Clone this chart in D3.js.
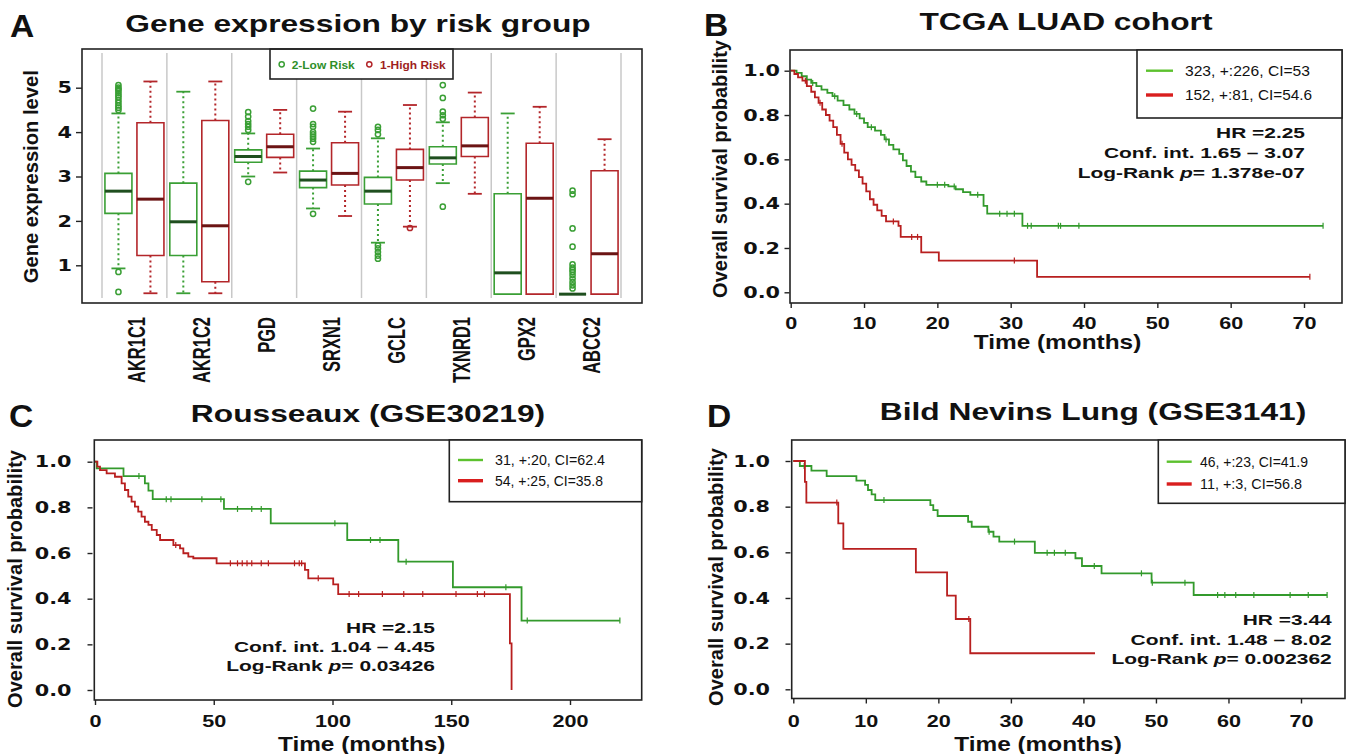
<!DOCTYPE html>
<html>
<head>
<meta charset="utf-8">
<script src="https://cdn.jsdelivr.net/npm/d3@7"></script>
<style>
  html, body { margin: 0; padding: 0; background: #fff; }
  svg { display: block; }
</style>
</head>
<body>
<svg id="fig" width="1349" height="754"></svg>
<script>
// ---------- Panel A data ----------
const genes = ["AKR1C1", "AKR1C2", "PGD", "SRXN1", "GCLC", "TXNRD1", "GPX2", "ABCC2"];
// [lower whisker, Q1, median, Q3, upper whisker]
const lowRiskStats = [
  [0.93, 2.17, 2.67, 3.07, 4.42],
  [0.37, 1.22, 1.98, 2.85, 4.91],
  [3.00, 3.32, 3.45, 3.60, 3.97],
  [2.28, 2.75, 2.92, 3.12, 3.63],
  [1.51, 2.38, 2.67, 2.98, 3.86],
  [2.85, 3.28, 3.42, 3.67, 4.22],
  [0.35, 0.35, 0.83, 2.61, 4.42],
  [0.35, 0.35, 0.35, 0.35, 0.35]
];
const highRiskStats = [
  [0.37, 1.22, 2.49, 4.21, 5.14],
  [0.37, 0.63, 1.89, 4.26, 5.14],
  [3.09, 3.43, 3.67, 3.95, 4.50],
  [2.11, 2.81, 3.07, 3.76, 4.46],
  [1.87, 2.92, 3.20, 3.61, 4.61],
  [2.61, 3.45, 3.69, 4.33, 4.89],
  [0.35, 0.35, 2.51, 3.75, 4.57],
  [0.35, 0.35, 1.26, 3.13, 3.84]
];
const lowRiskOutliers = [
  [5.06, 5.0, 4.97, 4.93, 4.88, 4.83, 4.78, 4.72, 4.66, 4.6, 4.55, 4.5, 0.85, 0.4],
  [],
  [4.45, 4.35, 4.25, 4.18, 4.12, 4.05, 2.88],
  [4.53, 4.18, 4.12, 4.0, 3.95, 3.9, 3.85, 3.78, 2.16],
  [4.12, 4.05, 3.95, 1.45, 1.38, 1.3, 1.22, 1.15],
  [5.06, 4.77, 4.46, 4.38, 4.3, 2.32],
  [],
  [2.68, 2.6, 1.83, 1.42, 1.02, 0.95, 0.9, 0.85, 0.78, 0.7, 0.62, 0.55, 0.48]
];
const highRiskOutliers = [[], [], [], [], [1.84], [], [], []];
const exprTicks = [1, 2, 3, 4, 5];

// ---------- Panel B data (TCGA LUAD) ----------
const tcgaLow = [[0,1],[0.8,0.99],[1.5,0.975],[2.2,0.96],[2.8,0.945],[3.5,0.93],[4.2,0.915],[5,0.9],[5.7,0.885],[6.4,0.865],[7.2,0.845],[8,0.825],[8.7,0.805],[9.4,0.785],[10,0.765],[10.5,0.745],[11.5,0.73],[12.3,0.71],[12.8,0.69],[13.4,0.665],[14,0.645],[14.8,0.625],[15.3,0.595],[15.8,0.57],[16.4,0.545],[17,0.52],[17.8,0.5],[18.5,0.485],[21.5,0.478],[22.5,0.465],[23.5,0.452],[24.5,0.44],[26.3,0.39],[26.8,0.355],[31.6,0.3]];
const tcgaLowEnd = 72.6;
const tcgaLowCensor = [3, 6, 9, 11, 13, 20, 21, 22.3, 25.5, 28.5, 29.5, 30.5, 32.3, 32.8, 36.5, 36.8, 39.3, 72.6];
const tcgaHigh = [[0,1],[0.5,0.985],[1,0.97],[1.6,0.955],[2.2,0.93],[2.8,0.905],[3.3,0.88],[3.8,0.855],[4.3,0.825],[4.8,0.8],[5.3,0.775],[5.8,0.745],[6.3,0.71],[6.8,0.67],[7.3,0.63],[7.8,0.6],[8.3,0.575],[8.8,0.55],[9.3,0.52],[9.8,0.49],[10.3,0.455],[10.8,0.42],[11.3,0.395],[11.8,0.37],[12.4,0.345],[13,0.32],[14.7,0.3],[15,0.25],[17.8,0.18],[20.2,0.143],[33.6,0.07]];
const tcgaHighEnd = 70.8;
const tcgaHighCensor = [2, 4, 7, 14, 16.5, 17.3, 30.5, 70.8];

// ---------- Panel C data (GSE30219) ----------
const rousLow = [[0,1],[0.7,0.971],[12,0.937],[21,0.905],[22.5,0.873],[24.3,0.836],[54.3,0.793],[74,0.73],[106.2,0.657],[127.7,0.562],[150.7,0.45],[179.6,0.304]];
const rousLowEnd = 221;
const rousLowCensor = [18.5, 30, 32, 45, 53, 60, 66, 70, 101, 116, 120, 131, 173, 182, 221];
const rousHigh = [[0,1],[1,0.978],[2.1,0.963],[4.9,0.949],[8.4,0.934],[11.2,0.905],[12.6,0.876],[14,0.847],[15.4,0.825],[16.8,0.803],[18.2,0.781],[19.6,0.759],[21,0.737],[22.5,0.723],[23.9,0.701],[26,0.679],[27.4,0.657],[33,0.635],[35.8,0.62],[37.2,0.599],[39.3,0.584],[41.4,0.577],[51.2,0.555],[88.4,0.526],[89.8,0.489],[100.3,0.463],[102.4,0.42],[174.7,0.204],[175.4,0]];
const rousHighEnd = 175.4;
const rousHighCensor = [34, 57, 60, 62, 64, 66, 70, 73, 84, 86, 87, 94, 107, 111, 121, 130, 138, 152, 161, 164];

// ---------- Panel D data (GSE3141) ----------
const bildLow = [[0,1],[0.9,0.978],[2.5,0.958],[4.6,0.934],[8.7,0.914],[9.9,0.895],[10.3,0.873],[10.8,0.854],[11.3,0.829],[18.9,0.807],[19.3,0.785],[19.9,0.759],[24.1,0.734],[24.6,0.712],[26.9,0.69],[27.6,0.669],[28.4,0.647],[33.3,0.598],[38.9,0.574],[39.8,0.54],[42.5,0.508],[49.4,0.467],[55.2,0.413]];
const bildLowEnd = 73.6;
const bildLowCensor = [1.5, 12.5, 27, 30.5, 35, 36, 37.5, 41.5, 48, 49.5, 54, 58.5, 59.5, 61, 63.5, 68.5, 71, 73.6];
const bildHigh = [[0,1],[1.6,0.909],[1.8,0.818],[6.2,0.727],[6.9,0.615],[16.9,0.512],[21.2,0.41],[22.4,0.308],[24.4,0.158]];
const bildHighEnd = 41.6;
const bildHighCensor = [6, 24.2];

const survTicks = [0, 0.2, 0.4, 0.6, 0.8, 1.0];

// ---------- styling ----------
const SX = 1.35;              // the figure is stretched horizontally
const SANS = "'Liberation Sans', Arial, sans-serif";
const WIDE = "'DejaVu Sans', Verdana, sans-serif";
const NARROW = "'Liberation Sans Narrow', 'Arial Narrow', 'Liberation Sans', sans-serif";
const GREEN = "#3a9f35", GREEN_MED = "#1f4f1f";
const RED = "#b3262a", RED_MED = "#6b1414";
const KM_GREEN = "#339a2c", KM_RED = "#b81f1f";
const LEG_GREEN = "#5cc12e", LEG_RED = "#d91e1e";

const svg = d3.select("#fig");
svg.append("rect").attr("width", 1349).attr("height", 754).attr("fill", "#fff");

function label(g, x, y, str, o = {}) {
  const t = g.append("text")
    .attr("transform", `translate(${x},${y}) scale(${o.sx ?? SX},1)`)
    .attr("text-anchor", o.anchor || "start")
    .style("font-family", o.family || SANS)
    .style("font-weight", o.weight || "bold")
    .style("font-size", (o.size || 16) + "px")
    .style("fill", o.color || "#111");
  if (o.len) t.attr("textLength", o.len).attr("lengthAdjust", "spacingAndGlyphs");
  t.text(str);
  return t;
}

function vlabel(g, x, y, str, o = {}) {
  const t = g.append("text")
    .attr("transform", `translate(${x},${y}) rotate(-90) scale(1,${o.sy ?? 1.1})`)
    .attr("text-anchor", "middle")
    .style("font-family", o.family || SANS)
    .style("font-weight", o.weight || "bold")
    .style("font-size", (o.size || 19) + "px")
    .style("fill", "#111");
  if (o.len) t.attr("textLength", o.len).attr("lengthAdjust", "spacingAndGlyphs");
  t.text(str);
  return t;
}

// ================= Panel A =================
(function drawBoxPanel() {
  const g = svg.append("g");
  const frame = { x0: 82, y0: 49, x1: 642, y1: 303 };
  const y = d3.scaleLinear().domain([1, 5]).range([265.3, 87.7]);
  const band = d3.scaleBand().domain(genes).range([102, 621]);
  const half = 13.5, off = 16;

  label(g, 10, 36.7, "A", { size: 32, sx: 1.05 });
  label(g, 358, 31.7, "Gene expression by risk group", { size: 23.5, anchor: "middle" });

  // group separators
  const seps = genes.map(d => band(d)).concat([band.range()[1]]);
  g.selectAll(".sep").data(seps).join("line")
    .attr("x1", d => d).attr("x2", d => d)
    .attr("y1", 53).attr("y2", 298)
    .attr("stroke", "#c8c8c8").attr("stroke-width", 1.5);

  function drawBox(stats, outs, cx, col, med) {
    const [wl, q1, md, q3, wh] = stats;
    // whiskers
    [[q3, wh], [q1, wl]].forEach(([a, b]) => {
      if (a === b) return;
      g.append("line").attr("x1", cx).attr("x2", cx).attr("y1", y(a)).attr("y2", y(b))
        .attr("stroke", col).attr("stroke-width", 2).attr("stroke-dasharray", "2,3");
      g.append("line").attr("x1", cx - 7).attr("x2", cx + 7).attr("y1", y(b)).attr("y2", y(b))
        .attr("stroke", col).attr("stroke-width", 1.8);
    });
    // box
    g.append("path")
      .attr("d", `M${cx - half},${y(q1)}H${cx + half}V${y(q3)}H${cx - half}Z`)
      .attr("fill", "#fff").attr("stroke", col).attr("stroke-width", 1.6);
    g.append("line").attr("x1", cx - half).attr("x2", cx + half).attr("y1", y(md)).attr("y2", y(md))
      .attr("stroke", med).attr("stroke-width", 3);
    g.selectAll(null).data(outs).join("circle")
      .attr("cx", cx).attr("cy", d => y(d)).attr("r", 2.6)
      .attr("fill", "none").attr("stroke", col).attr("stroke-width", 1.5);
  }

  genes.forEach((gene, i) => {
    const c = band(gene) + band.bandwidth() / 2;
    drawBox(lowRiskStats[i], lowRiskOutliers[i], c - off, GREEN, GREEN_MED);
    drawBox(highRiskStats[i], highRiskOutliers[i], c + off, RED, RED_MED);
  });

  // legend
  g.append("rect").attr("x", 270).attr("y", 49).attr("width", 183).attr("height", 30)
    .attr("fill", "#fff").attr("stroke", "#222").attr("stroke-width", 1.6);
  g.append("circle").attr("cx", 281.7).attr("cy", 64.3).attr("r", 2.6)
    .attr("fill", "none").attr("stroke", GREEN).attr("stroke-width", 1.5);
  label(g, 291.7, 68.5, "2-Low Risk", { size: 11.5, sx: 1.04, color: "#2f8f2a" });
  g.append("circle").attr("cx", 369.3).attr("cy", 64.3).attr("r", 2.6)
    .attr("fill", "none").attr("stroke", RED).attr("stroke-width", 1.5);
  label(g, 380, 68.5, "1-High Risk", { size: 11.5, sx: 1.04, color: "#9e1f22" });

  // frame
  g.append("rect").attr("x", frame.x0).attr("y", frame.y0)
    .attr("width", frame.x1 - frame.x0).attr("height", frame.y1 - frame.y0)
    .attr("fill", "none").attr("stroke", "#222").attr("stroke-width", 1.6);

  // y axis
  const ya = g.append("g").attr("transform", `translate(${frame.x0},0)`)
    .call(d3.axisLeft(y).tickValues(exprTicks).tickSize(6).tickPadding(4).tickFormat(d3.format("d")));
  ya.select(".domain").remove();
  ya.selectAll(".tick line").attr("stroke", "#222").attr("stroke-width", 1.4);
  ya.selectAll(".tick text")
    .attr("x", -10 / 1.3).attr("transform", "scale(1.3,1)")
    .style("font-family", WIDE).style("font-weight", "bold").style("font-size", "16px").style("fill", "#111");

  // x labels (rotated)
  const xa = g.append("g").attr("transform", `translate(0,${frame.y1})`)
    .call(d3.axisBottom(band).tickSize(0));
  xa.select(".domain").remove();
  xa.selectAll(".tick text")
    .attr("y", 0).attr("dy", 0)
    .attr("text-anchor", "end")
    .attr("transform", "translate(11,14) rotate(-90) scale(1,1.45)")
    .style("font-family", SANS).style("font-weight", "bold").style("font-size", "16.5px").style("fill", "#111");

  vlabel(g, 38, 176.7, "Gene expression level", { size: 19, sy: 1.05, len: 213, weight: "bold" });
})();

// ================= KM panels =================
function stepAt(steps, t) {
  let s = steps[0][1];
  for (const [tt, v] of steps) { if (tt <= t) s = v; }
  return s;
}

function drawKM(p) {
  const g = svg.append("g");
  const [fx0, fy0, fx1, fy1] = p.frame;
  const x = d3.scaleLinear().domain([0, p.xTicks[p.xTicks.length - 1]]).range(p.xRange);
  const y = d3.scaleLinear().domain([0, 1]).range(p.yRange);
  const line = d3.line().x(d => x(d[0])).y(d => y(d[1])).curve(d3.curveStepAfter);

  label(g, p.letter[1], p.letter[2], p.letter[0], { size: 32, sx: 1.05 });
  label(g, p.title[1], p.title[2], p.title[0], { size: 23.5, anchor: "middle" });

  p.curves.forEach(c => {
    const pts = c.steps.concat([[c.end, c.steps[c.steps.length - 1][1]]]);
    g.append("path").attr("d", line(pts)).attr("fill", "none")
      .attr("stroke", c.color).attr("stroke-width", 1.8);
    g.selectAll(null).data(c.censor).join("line")
      .attr("x1", d => x(d)).attr("x2", d => x(d))
      .attr("y1", d => y(stepAt(c.steps, d)) - 3).attr("y2", d => y(stepAt(c.steps, d)) + 3)
      .attr("stroke", c.color).attr("stroke-width", 1.2);
  });

  // frame
  g.append("rect").attr("x", fx0).attr("y", fy0).attr("width", fx1 - fx0).attr("height", fy1 - fy0)
    .attr("fill", "none").attr("stroke", "#222").attr("stroke-width", 1.6);

  // legend
  const L = p.legend;
  g.append("rect").attr("x", L.box[0]).attr("y", L.box[1])
    .attr("width", L.box[2] - L.box[0]).attr("height", L.box[3] - L.box[1])
    .attr("fill", "#fff").attr("stroke", "#222").attr("stroke-width", 1.6);
  L.items.forEach((txt, i) => {
    g.append("line").attr("x1", L.lineX[0]).attr("x2", L.lineX[1])
      .attr("y1", L.rows[i]).attr("y2", L.rows[i])
      .attr("stroke", i === 0 ? LEG_GREEN : LEG_RED).attr("stroke-width", i === 0 ? 2.4 : 3.4);
    label(g, L.textX, L.rows[i] + 5.3, txt, { size: 15, sx: 1, family: NARROW, weight: "normal", len: L.lens[i] });
  });

  // stats
  const S = p.stats;
  label(g, S.x, S.y[0], S.hr, { size: 15.5, anchor: "end" });
  label(g, S.x, S.y[1], S.ci, { size: 15.5, anchor: "end" });
  const lr = label(g, S.x, S.y[2], "", { size: 15.5, anchor: "end" });
  lr.append("tspan").text("Log-Rank ");
  lr.append("tspan").style("font-style", "italic").text("p");
  lr.append("tspan").text("= " + S.p);

  // axes
  const xa = g.append("g").attr("transform", `translate(0,${fy1})`)
    .call(d3.axisBottom(x).tickValues(p.xTicks).tickSize(5).tickPadding(p.xPad).tickFormat(d3.format("d")));
  xa.select(".domain").remove();
  xa.selectAll(".tick line").attr("stroke", "#222").attr("stroke-width", 1.4);
  xa.selectAll(".tick text").attr("transform", `scale(${SX},1)`)
    .style("font-family", SANS).style("font-weight", "bold").style("font-size", "16px").style("fill", "#111");

  const ya = g.append("g").attr("transform", `translate(${p.yAxisX},0)`)
    .call(d3.axisLeft(y).tickValues(survTicks).tickSize(5).tickPadding(p.yPad).tickFormat(d3.format(".1f")));
  ya.select(".domain").remove();
  ya.selectAll(".tick line").attr("stroke", "#222").attr("stroke-width", 1.4);
  ya.selectAll(".tick text").attr("x", -(5 + p.yPad) / 1.3).attr("transform", "scale(1.3,1)")
    .style("font-family", WIDE).style("font-weight", "bold").style("font-size", "16px").style("fill", "#111");

  label(g, p.xLabel[0], p.xLabel[1], "Time (months)", { size: 20, sx: 1.22, anchor: "middle" });
  vlabel(g, p.yLabel[0], p.yLabel[1], "Overall survival probability", { size: 20, sy: 1.05, len: 258 });
}

drawKM({
  letter: ["B", 704, 36], title: ["TCGA LUAD cohort", 1066, 30],
  frame: [790, 50, 1342, 303], xRange: [790.7, 1304], yRange: [292.3, 70.7],
  xTicks: [0, 10, 20, 30, 40, 50, 60, 70], xPad: 10, yAxisX: 789.5, yPad: 4.5,
  xLabel: [1057.5, 349], yLabel: [727, 169],
  curves: [
    { steps: tcgaLow, end: tcgaLowEnd, censor: tcgaLowCensor, color: KM_GREEN },
    { steps: tcgaHigh, end: tcgaHighEnd, censor: tcgaHighCensor, color: KM_RED }
  ],
  legend: { box: [1137, 50, 1342, 118], lineX: [1146, 1173], rows: [70.7, 95], textX: 1185,
    items: ["323, +:226, CI=53", "152, +:81, CI=54.6"], lens: [125, 127] },
  stats: { x: 1305, y: [138.3, 158.3, 177.7], hr: "HR =2.25", ci: "Conf. int. 1.65 \u2013 3.07", p: "1.378e-07" }
});

drawKM({
  letter: ["C", 9, 427], title: ["Rousseaux (GSE30219)", 368, 421.7],
  frame: [94.3, 440, 641.7, 700], xRange: [95, 570], yRange: [690, 461.7],
  xTicks: [0, 50, 100, 150, 200], xPad: 11, yAxisX: 92.5, yPad: 16,
  xLabel: [361.7, 751], yLabel: [22, 579],
  curves: [
    { steps: rousLow, end: rousLowEnd, censor: rousLowCensor, color: KM_GREEN },
    { steps: rousHigh, end: rousHighEnd, censor: rousHighCensor, color: KM_RED }
  ],
  legend: { box: [449.3, 440, 641.7, 501.7], lineX: [458, 483], rows: [460, 480.7], textX: 495,
    items: ["31, +:20, CI=62.4", "54, +:25, CI=35.8"], lens: [110, 108] },
  stats: { x: 435, y: [632.7, 651.7, 670.7], hr: "HR =2.15", ci: "Conf. int. 1.04 \u2013 4.45", p: "0.03426" }
});

drawKM({
  letter: ["D", 707, 427], title: ["Bild Nevins Lung (GSE3141)", 1093, 420],
  frame: [791.7, 440, 1345, 698.5], xRange: [793.3, 1301], yRange: [689.3, 461],
  xTicks: [0, 10, 20, 30, 40, 50, 60, 70], xPad: 12.5, yAxisX: 790.5, yPad: 15.5,
  xLabel: [1038, 751], yLabel: [723, 577],
  curves: [
    { steps: bildLow, end: bildLowEnd, censor: bildLowCensor, color: KM_GREEN },
    { steps: bildHigh, end: bildHighEnd, censor: bildHighCensor, color: KM_RED }
  ],
  legend: { box: [1158.3, 440, 1345, 503.3], lineX: [1166.7, 1191.7], rows: [461.7, 484], textX: 1200,
    items: ["46, +:23, CI=41.9", "11, +:3, CI=56.8"], lens: [108, 102] },
  stats: { x: 1331.7, y: [625.3, 645, 664], hr: "HR =3.44", ci: "Conf. int. 1.48 \u2013 8.02", p: "0.002362" }
});
</script>
</body>
</html>
